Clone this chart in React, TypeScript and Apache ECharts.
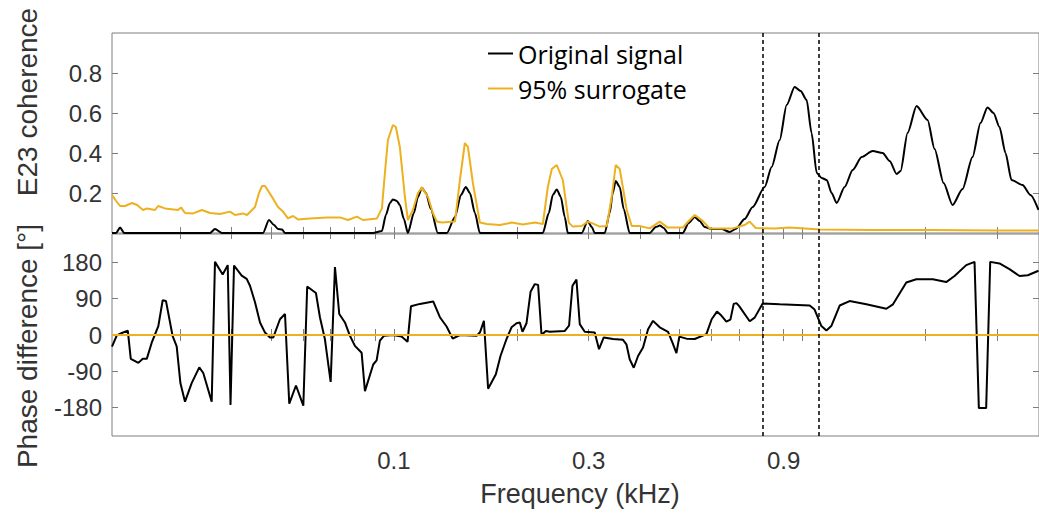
import { useEffect, useRef } from "react";
import * as echarts from "echarts";

const freqTicks = [0.03, 0.04, 0.05, 0.06, 0.07, 0.08, 0.09, 0.1, 0.2, 0.3, 0.4, 0.5, 0.6, 0.7, 0.8, 0.9, 1, 2, 3];
const freqLabels = [0.1, 0.3, 0.9];
const coherenceTicks = [0.2, 0.4, 0.6, 0.8];
const phaseTicks = [-180, -90, 0, 90, 180];
const bandEdges = [0.8, 1.1];
const freqMin = 0.0204;
const freqMax = 3.8;

const seriesNames = ["Original signal", "95% surrogate"];

const originalCoherence = [
  [0.0204, 0], [0.02088, 0], [0.02135, 0.027], [0.02184, 0],
  [0.03545, 0], [0.03646, 0.02], [0.03793, 0],
  [0.0478, 0], [0.04944, 0.065], [0.05085, 0.04], [0.05201, 0.02], [0.0532, 0.018], [0.05411, 0],
  [0.08884, 0], [0.09346, 0.01], [0.09559, 0.09], [0.09777, 0.15], [0.09944, 0.168], [0.1017, 0.16], [0.1034, 0.14], [0.1058, 0.07], [0.1082, 0],
  [0.1119, 0.1], [0.1145, 0.18], [0.1171, 0.226], [0.1198, 0.2], [0.1232, 0.12], [0.1281, 0],
  [0.1348, 0], [0.1411, 0.08], [0.1459, 0.19], [0.15, 0.23], [0.1535, 0.2], [0.1579, 0.1], [0.1624, 0],
  [0.2316, 0], [0.2395, 0.1], [0.245, 0.19], [0.2505, 0.218], [0.2563, 0.18], [0.2621, 0.08], [0.2666, 0],
  [0.2884, 0], [0.2983, 0.06], [0.3051, 0.03], [0.3103, 0],
  [0.3283, 0], [0.3377, 0.1], [0.3435, 0.2], [0.3493, 0.26], [0.3573, 0.23], [0.3654, 0.12], [0.3779, 0],
  [0.4232, 0], [0.4377, 0.03], [0.4477, 0.037], [0.458, 0.025], [0.4684, 0],
  [0.5096, 0], [0.5272, 0.05], [0.5453, 0.08], [0.5609, 0.06], [0.5769, 0.03], [0.6, 0.02], [0.6348, 0.02], [0.6641, 0.005], [0.687, 0.02],
  [0.7228, 0.07], [0.7562, 0.13], [0.809, 0.23], [0.8416, 0.33], [0.8805, 0.465], [0.9158, 0.64], [0.9581, 0.73], [0.991, 0.71],
  [1.025, 0.665], [1.054, 0.5], [1.085, 0.3], [1.116, 0.275], [1.148, 0.265], [1.18, 0.2], [1.214, 0.15], [1.27, 0.23], [1.329, 0.315],
  [1.398, 0.38], [1.487, 0.41], [1.574, 0.4], [1.637, 0.36], [1.703, 0.295], [1.741, 0.31], [1.811, 0.5], [1.905, 0.635], [2.027, 0.565],
  [2.109, 0.42], [2.219, 0.25], [2.334, 0.14], [2.469, 0.22], [2.612, 0.38], [2.732, 0.55], [2.842, 0.628], [2.94, 0.6], [3.041, 0.53],
  [3.146, 0.4], [3.254, 0.265], [3.463, 0.24], [3.622, 0.19], [3.789, 0.115],
];

const surrogateCoherence = [
  [0.0204, 0.19], [0.02088, 0.16], [0.02135, 0.135], [0.02196, 0.135], [0.02284, 0.15], [0.0235, 0.14], [0.02431, 0.115], [0.02486, 0.123],
  [0.02601, 0.115], [0.02645, 0.135], [0.02751, 0.123], [0.0296, 0.115], [0.0301, 0.128], [0.03079, 0.1], [0.03221, 0.098], [0.03388, 0.115],
  [0.03545, 0.1], [0.0375, 0.095], [0.03968, 0.107], [0.04082, 0.09], [0.0427, 0.098], [0.04368, 0.09], [0.04569, 0.13], [0.04673, 0.2],
  [0.04753, 0.235], [0.04834, 0.235], [0.05056, 0.173], [0.05201, 0.13], [0.0535, 0.107], [0.05503, 0.073], [0.05661, 0.085], [0.0582, 0.068],
  [0.06227, 0.073], [0.06853, 0.077], [0.07377, 0.078], [0.07717, 0.065], [0.08118, 0.082], [0.08397, 0.065], [0.09086, 0.073], [0.09346, 0.123],
  [0.09505, 0.3], [0.09668, 0.465], [0.09944, 0.54], [0.1011, 0.53], [0.1034, 0.43], [0.1064, 0.18], [0.1082, 0.065], [0.1113, 0.115],
  [0.1145, 0.2], [0.1171, 0.228], [0.1212, 0.18], [0.1246, 0.1], [0.1274, 0.057], [0.1311, 0.052], [0.1411, 0.057], [0.1451, 0.265],
  [0.1492, 0.45], [0.1518, 0.43], [0.1561, 0.25], [0.1624, 0.052], [0.1689, 0.045], [0.1817, 0.04], [0.1944, 0.052], [0.2069, 0.043],
  [0.2214, 0.052], [0.2316, 0.045], [0.2382, 0.23], [0.2436, 0.32], [0.2505, 0.34], [0.2592, 0.265], [0.2681, 0.052], [0.2741, 0.032],
  [0.2884, 0.035], [0.2983, 0.057], [0.3068, 0.048], [0.3192, 0.032], [0.332, 0.035], [0.3415, 0.18], [0.3493, 0.34], [0.3573, 0.32],
  [0.3717, 0.115], [0.3823, 0.035], [0.4, 0.035], [0.4232, 0.023], [0.4477, 0.057], [0.4684, 0.027], [0.5096, 0.027], [0.5272, 0.06],
  [0.5453, 0.09], [0.5673, 0.065], [0.5933, 0.023], [0.6756, 0.023], [0.7228, 0.04], [0.7435, 0.057], [0.769, 0.025], [0.856, 0.023],
  [0.9315, 0.027], [1.103, 0.018], [1.4625, 0.015], [2.05, 0.015], [3.041, 0.013], [3.789, 0.012],
];

const originalPhase = [
  [0.0204, -29], [0.02096, -1], [0.02156, 5], [0.0223, 11], [0.02268, -59], [0.02367, -69], [0.02426, -59], [0.02482, -59],
  [0.02552, -19], [0.02649, 22], [0.02715, 86], [0.02766, 84], [0.02872, -3], [0.02938, -28], [0.03, -119], [0.03079, -165],
  [0.03197, -119], [0.03337, -80], [0.03413, -94], [0.03579, -165], [0.03646, 181], [0.03808, 150], [0.03918, 173], [0.0398, -173],
  [0.04059, 172], [0.04239, 147], [0.0436, 139], [0.04442, 122], [0.04569, 81], [0.047, 31], [0.04834, 6], [0.04972, -6],
  [0.05065, -6], [0.0526, 39], [0.05411, 52], [0.05543, -170], [0.05757, -125], [0.06, -175], [0.06133, 120], [0.06442, 104],
  [0.06589, 44], [0.06776, -10], [0.07, -116], [0.07172, 168], [0.07348, 52], [0.07587, 31], [0.07804, -2], [0.08027, -27],
  [0.08336, -44], [0.08493, -139], [0.08899, -73], [0.09071, -63], [0.09241, -14], [0.09452, -2], [0.09961, 0], [0.1044, -4],
  [0.108, -17], [0.1101, 71], [0.1158, 77], [0.1248, 83], [0.1296, 44], [0.1346, 21], [0.1393, -9], [0.1451, 0],
  [0.1594, -2], [0.1624, 6], [0.1661, 35], [0.1701, -133], [0.1777, -97], [0.1824, -52], [0.1887, -10], [0.1941, 19],
  [0.1997, 29], [0.2034, 31], [0.2065, 8], [0.2112, 29], [0.2161, 107], [0.2214, 126], [0.2255, 124], [0.2299, 0],
  [0.2355, 10], [0.2409, 8], [0.2621, 10], [0.2685, 23], [0.2737, 122], [0.2799, 137], [0.2852, 27], [0.2933, 8],
  [0.3103, 6], [0.3179, -35], [0.3265, -6], [0.344, -10], [0.364, -12], [0.371, -23], [0.3779, -60], [0.3867, -81],
  [0.3962, -52], [0.4075, -31], [0.4192, 14], [0.4311, 35], [0.4477, 19], [0.4692, 8], [0.481, -19], [0.4919, -45],
  [0.5, -4], [0.5204, -9], [0.5453, -10], [0.5824, 2], [0.6, 39], [0.6182, 58], [0.6337, 48], [0.6518, 33],
  [0.6669, 38], [0.6794, 77], [0.6899, 79], [0.7, 72], [0.7435, 34], [0.7647, 43], [0.8, 78], [0.8805, 76],
  [1.043, 73], [1.072, 63], [1.114, 22], [1.146, 11], [1.178, 22], [1.235, 73], [1.306, 84], [1.4355, 76],
  [1.607, 65], [1.668, 76], [1.798, 130], [1.902, 138], [2.089, 138], [2.252, 131], [2.36, 146], [2.521, 173],
  [2.642, 181], [2.707, -181], [2.821, -181], [2.886, 181], [3.041, 177], [3.217, 163], [3.405, 146], [3.568, 148], [3.789, 159],
];

const surrogatePhase = [
  [0.0204, 0], [3.8, 0],
];

const FONT = "'Liberation Sans', Arial, Helvetica, sans-serif";
const AXIS_COLOR = "#7f7f7f";
const TEXT_COLOR = "#333333";
const BLACK = "#000000";
const ORANGE = "#EDB120";

function fmtFreq(v: number) {
  return String(parseFloat(Number(v).toPrecision(3)));
}

export default function App() {
  const ref = useRef<HTMLDivElement>(null);

  useEffect(() => {
    if (!ref.current) return;
    const chart = echarts.init(ref.current, undefined, { renderer: "svg" });

    const xBase = (gridIndex: number, position: "top" | "bottom", labels: boolean) => ({
      type: "log",
      logBase: 10,
      gridIndex,
      position,
      min: freqMin,
      max: freqMax,
      axisLine: { show: false },
      splitLine: { show: false },
      axisTick: {
        show: true,
        inside: true,
        length: 6,
        customValues: freqTicks,
        lineStyle: { color: AXIS_COLOR, width: 1 },
      },
      axisLabel: labels
        ? {
            show: true,
            customValues: freqLabels,
            margin: 12,
            fontSize: 24,
            fontFamily: FONT,
            color: TEXT_COLOR,
            formatter: (v: number) => fmtFreq(v),
          }
        : { show: false },
    });

    const yBase = (
      gridIndex: number,
      position: "left" | "right",
      labels: boolean,
      min: number,
      max: number,
      ticks: number[]
    ) => ({
      type: "value",
      gridIndex,
      position,
      min,
      max,
      axisLine: { show: false },
      splitLine: { show: false },
      axisTick: {
        show: true,
        inside: true,
        length: 6,
        customValues: ticks,
        lineStyle: { color: AXIS_COLOR, width: 1 },
      },
      axisLabel: labels
        ? {
            show: true,
            customValues: ticks,
            margin: 10,
            fontSize: 24,
            fontFamily: FONT,
            color: TEXT_COLOR,
          }
        : { show: false },
    });

    const bandMarkLine = {
      silent: true,
      symbol: ["none", "none"],
      label: { show: false },
      lineStyle: { color: BLACK, width: 1.5, type: [4, 3] },
      data: bandEdges.map((b) => ({ xAxis: b })),
    };

    chart.setOption({
      animation: false,
      backgroundColor: "#ffffff",
      grid: [
        { left: 112, top: 33, width: 928, height: 200, show: true, borderColor: AXIS_COLOR, borderWidth: 1, backgroundColor: "transparent" },
        { left: 112, top: 234, width: 928, height: 202, show: true, borderColor: AXIS_COLOR, borderWidth: 1, backgroundColor: "transparent" },
      ],
      xAxis: [
        xBase(0, "bottom", false),
        xBase(0, "top", false),
        xBase(1, "bottom", true),
        xBase(1, "top", false),
      ],
      yAxis: [
        yBase(0, "left", true, 0, 1, coherenceTicks),
        yBase(0, "right", false, 0, 1, coherenceTicks),
        yBase(1, "left", true, -250, 250, phaseTicks),
        yBase(1, "right", false, -250, 250, phaseTicks),
      ],
      legend: {
        data: seriesNames,
        orient: "vertical",
        left: 488,
        top: 41,
        padding: 0,
        itemWidth: 25,
        itemHeight: 2,
        itemGap: 10,
        icon: "rect",
        textStyle: { fontSize: 25, fontFamily: "'Open Sans', sans-serif", color: BLACK },
      },
      series: [
        {
          name: seriesNames[0],
          type: "line",
          xAxisIndex: 0,
          yAxisIndex: 0,
          data: originalCoherence,
          showSymbol: false,
          symbol: "none",
          smooth: 0.25,
          smoothMonotone: "x",
          lineStyle: { color: BLACK, width: 2 },
          itemStyle: { color: BLACK },
          markLine: bandMarkLine,
          z: 2,
        },
        {
          name: seriesNames[1],
          type: "line",
          xAxisIndex: 0,
          yAxisIndex: 0,
          data: surrogateCoherence,
          showSymbol: false,
          symbol: "none",
          lineStyle: { color: ORANGE, width: 2 },
          itemStyle: { color: ORANGE },
          z: 3,
        },
        {
          name: seriesNames[0],
          type: "line",
          xAxisIndex: 2,
          yAxisIndex: 2,
          data: originalPhase,
          showSymbol: false,
          symbol: "none",
          lineStyle: { color: BLACK, width: 2 },
          itemStyle: { color: BLACK },
          markLine: bandMarkLine,
          z: 2,
        },
        {
          name: seriesNames[1],
          type: "line",
          xAxisIndex: 2,
          yAxisIndex: 2,
          data: surrogatePhase,
          showSymbol: false,
          symbol: "none",
          lineStyle: { color: ORANGE, width: 2 },
          itemStyle: { color: ORANGE },
          z: 3,
        },
      ],
      graphic: [
        {
          type: "text",
          x: 27,
          y: 102,
          rotation: Math.PI / 2,
          style: {
            text: "E23 coherence",
            fontSize: 28,
            fontFamily: FONT,
            fill: TEXT_COLOR,
            align: "center",
            verticalAlign: "middle",
            textAlign: "center",
            textVerticalAlign: "middle",
          },
        },
        {
          type: "text",
          x: 27,
          y: 346,
          rotation: Math.PI / 2,
          style: {
            text: "Phase difference [°]",
            fontSize: 28,
            fontFamily: FONT,
            fill: TEXT_COLOR,
            align: "center",
            verticalAlign: "middle",
            textAlign: "center",
            textVerticalAlign: "middle",
          },
        },
        {
          type: "text",
          x: 580,
          y: 494,
          style: {
            text: "Frequency (kHz)",
            fontSize: 27,
            fontFamily: FONT,
            fill: TEXT_COLOR,
            align: "center",
            verticalAlign: "middle",
            textAlign: "center",
            textVerticalAlign: "middle",
          },
        },
      ],
    });

    return () => {
      chart.dispose();
    };
  }, []);

  return (
    <div
      ref={ref}
      style={{ position: "absolute", left: 0, top: 0, width: 1039, height: 515 }}
    />
  );
}
